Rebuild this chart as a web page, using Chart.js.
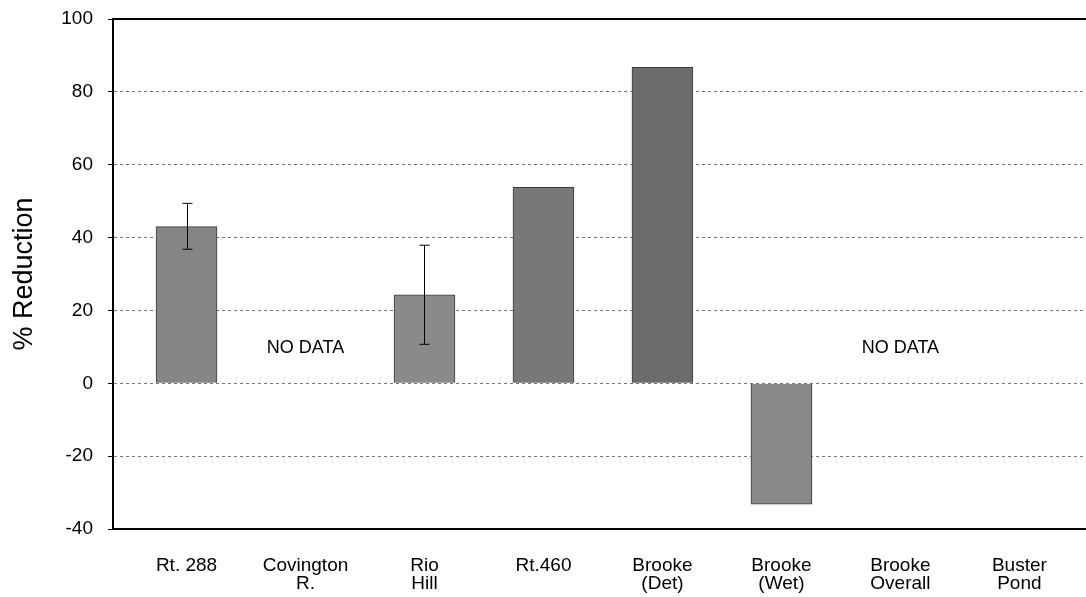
<!DOCTYPE html>
<html>
<head>
<meta charset="utf-8">
<script src="https://cdn.jsdelivr.net/npm/chart.js@4.4.0/dist/chart.umd.min.js"></script>
<style>
  body { margin: 0; background: #fff; }
  #wrap { width: 1086px; height: 597px; }
</style>
</head>
<body>
<div id="wrap"><canvas id="reductionChart" width="1086" height="597"></canvas></div>
<script>
// Sites along the x axis (two-line labels)
const sites = [
  ['Rt. 288'], ['Covington', 'R.'], ['Rio', 'Hill'], ['Rt.460'],
  ['Brooke', '(Det)'], ['Brooke', '(Wet)'], ['Brooke', 'Overall'], ['Buster', 'Pond']
];
// % reduction per site, null = no data
const reduction = [43, null, 24.3, 53.8, 86.7, -33.2, null, null];
// error bar ends (null = none)
const errLow  = [36.8, null, 10.7, null, null, null, null, null];
const errHigh = [49.4, null, 37.9, null, null, null, null, null];
const barColors = ['#858585', null, '#8a8a8a', '#787878', '#6c6c6c', '#898989', null, null];
const yTicks = [-40, -20, 0, 20, 40, 60, 80, 100];
// "NO DATA" notes: x position (site index) and y value
const notes = [{ x: 1, y: 9.6, text: 'NO DATA' }, { x: 6, y: 9.6, text: 'NO DATA' }];

const FONT = 'Arial, "Liberation Sans", sans-serif';

const extras = {
  id: 'extras',
  afterDatasetsDraw(chart) {
    const { ctx, chartArea, scales: { x, y } } = chart;
    ctx.save();
    // top frame line
    ctx.strokeStyle = '#000';
    ctx.lineWidth = 2;
    ctx.beginPath();
    ctx.moveTo(chartArea.left, chartArea.top);
    ctx.lineTo(chartArea.right, chartArea.top);
    ctx.stroke();

    // error bars
    ctx.lineWidth = 1;
    errHigh.forEach((hi, i) => {
      if (hi == null) return;
      const px = Math.round(x.getPixelForValue(i)) + 0.5;
      const top = y.getPixelForValue(hi);
      const bot = y.getPixelForValue(errLow[i]);
      ctx.beginPath();
      ctx.moveTo(px, top); ctx.lineTo(px, bot);
      ctx.moveTo(px - 5, top); ctx.lineTo(px + 5, top);
      ctx.moveTo(px - 5, bot); ctx.lineTo(px + 5, bot);
      ctx.stroke();
    });

    // notes
    ctx.fillStyle = '#000';
    ctx.font = '18px ' + FONT;
    ctx.textAlign = 'center';
    ctx.textBaseline = 'middle';
    notes.forEach(n => {
      ctx.fillText(n.text, x.getPixelForValue(n.x), y.getPixelForValue(n.y));
    });
    ctx.restore();
  }
};

window.onload = function () {
  const ctx = document.getElementById('reductionChart').getContext('2d');

  new Chart(ctx, {
    type: 'bar',
    data: {
      datasets: [{
        data: reduction.map((v, i) => ({ x: i, y: v })),
        backgroundColor: barColors,
        borderColor: '#3a3a3a',
        borderWidth: 1,
        barThickness: 61
      }]
    },
    options: {
      responsive: false,
      animation: false,
      layout: { padding: { top: 19, right: 0, left: 0, bottom: 0 } },
      plugins: { legend: { display: false }, tooltip: { enabled: false } },
      scales: {
        x: {
          type: 'linear',
          offset: false,
          min: -0.618,
          max: 7.56,
          grid: { display: false, offset: false },
          border: { display: true, color: '#000', width: 2 },
          afterBuildTicks: scale => {
            scale.ticks = sites.map((_, i) => ({ value: i }));
          },
          afterFit: scale => {
            scale.height = 68;
            scale.paddingLeft = 0;
            scale.paddingRight = 0;
          },
          ticks: {
            autoSkip: false,
            maxRotation: 0,
            padding: 20,
            color: '#000',
            font: { family: FONT, size: 19, lineHeight: 0.95 },
            callback: v => sites[v]
          }
        },
        y: {
          min: -40,
          max: 100,
          afterBuildTicks: scale => {
            scale.ticks = yTicks.map(v => ({ value: v }));
          },
          afterFit: scale => {
            scale.width = 113;
            scale.paddingTop = 0;
            scale.paddingBottom = 0;
          },
          grid: {
            color: '#777',
            tickColor: '#000',
            tickLength: 5,
            lineWidth: 1
          },
          border: { display: true, color: '#000', width: 2, dash: [3, 3] },
          ticks: {
            color: '#000',
            padding: 15,
            font: { family: FONT, size: 19 }
          },
          title: {
            display: true,
            text: '% Reduction',
            color: '#000',
            padding: { top: 8, bottom: 0 },
            font: { family: FONT, size: 27 }
          }
        }
      }
    },
    plugins: [extras]
  });
};
</script>
</body>
</html>
